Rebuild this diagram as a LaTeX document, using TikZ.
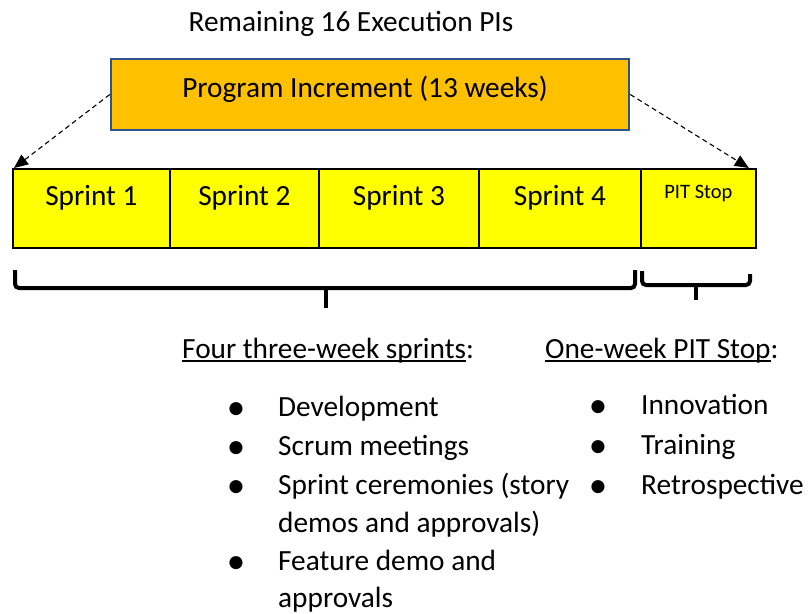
\documentclass[tikz,border=0pt]{standalone}
\usepackage{fontspec}
\setmainfont{Carlito}
\usetikzlibrary{arrows.meta}
\definecolor{piorange}{HTML}{FFC000}
\definecolor{piblue}{HTML}{2F528F}
\definecolor{sprintyellow}{HTML}{FFFF00}
\newcommand\ulbase[1]{\setbox0\hbox{#1}\rlap{\rule[-3.6pt]{\wd0}{1.6pt}}\box0}
\tikzset{
  big/.style={font=\fontsize{29.3}{34}\selectfont},
  small/.style={font=\fontsize{20.5}{24}\selectfont},
  pibox/.style={draw=piblue, fill=piorange, line width=2.5pt, minimum width=518pt, minimum height=71pt, inner sep=0pt},
  sprintbox/.style={draw=black, fill=sprintyellow, line width=1.8pt, anchor=north west, minimum height=79pt, inner sep=0pt},
  zoomarrow/.style={line width=1.1pt, dash pattern=on 5pt off 3.5pt, -{Triangle[length=14pt,width=12pt]}},
  bracepath/.style={line width=4pt, rounded corners=4pt},
  txt/.style={big, anchor=base west, inner sep=0pt},
  bul/.style={font=\fontsize{37}{40}\selectfont, anchor=base, inner sep=0pt},
}
\begin{document}
\begin{tikzpicture}[x=1pt,y=-1pt]
\useasboundingbox (0,0) rectangle (808,613);
% title
\node[big, inner sep=0pt, anchor=base] (title) at (351,31) {Remaining 16 Execution PIs};
% program increment
\node[pibox] (pi) at (370,94.5) {};
\node[big, inner sep=0pt, anchor=base] (pitext) at (365,97) {Program Increment (13 weeks)};
% sprints
\node[sprintbox, minimum width=157pt] (s1) at (12,168) {};
\node[sprintbox, minimum width=149pt] (s2) at (169,168) {};
\node[sprintbox, minimum width=160pt] (s3) at (318,168) {};
\node[sprintbox, minimum width=162pt] (s4) at (478,168) {};
\node[sprintbox, minimum width=115pt] (pit) at (640,168) {};
\node[big, inner sep=0pt, anchor=base] (t1) at ([yshift=-37pt]s1.north) {Sprint 1};
\node[big, inner sep=0pt, anchor=base] (t2) at ([yshift=-37pt]s2.north) {Sprint 2};
\node[big, inner sep=0pt, anchor=base] (t3) at ([yshift=-37pt]s3.north) {Sprint 3};
\node[big, inner sep=0pt, anchor=base] (t4) at ([yshift=-37pt]s4.north) {Sprint 4};
\node[small, inner sep=0pt, anchor=base] (tp) at ([yshift=-30pt]pit.north) {PIT Stop};
% dashed arrows
\draw[zoomarrow] (pi.west) -- ([xshift=2pt]s1.north west);
\draw[zoomarrow] (pi.east) -- ([xshift=-8pt]pit.north east);
% braces
\coordinate (b1l) at (15,270);
\coordinate (b1r) at (635,270);
\coordinate (b1m) at (326,288);
\coordinate (b1t) at (326,308);
\draw[bracepath] (b1l) -- (15,288) -- (635,288) -- (b1r);
\draw[line width=4pt] (b1m) -- (b1t);
\coordinate (b2l) at (642,271);
\coordinate (b2r) at (750,274);
\coordinate (b2m) at (696,285);
\coordinate (b2t) at (696,300);
\draw[bracepath] (b2l) -- (642,285) -- (750,285) -- (b2r);
\draw[line width=4pt] (b2m) -- (b2t);
% headings
\node[txt] (h1) at (182,358) {\ulbase{Four three-week sprints}:};
\node[txt] (h2) at (545,358) {\ulbase{One-week PIT Stop}:};
% left list
\node[bul] (lb1) at (236,419) {•};
\node[txt] (l1) at (278,416) {Development};
\node[bul] (lb2) at (236,458) {•};
\node[txt] (l2) at (278,455) {Scrum meetings};
\node[bul] (lb3) at (236,497) {•};
\node[txt] (l3) at (278,494) {Sprint ceremonies (story};
\node[txt] (l3b) at (278,532) {demos and approvals)};
\node[bul] (lb4) at (236,573) {•};
\node[txt] (l4) at (278,570) {Feature demo and};
\node[txt] (l4b) at (278,607) {approvals};
% right list
\node[bul] (rb1) at (598,417) {•};
\node[txt] (r1) at (641,414) {Innovation};
\node[bul] (rb2) at (598,457) {•};
\node[txt] (r2) at (641,454) {Training};
\node[bul] (rb3) at (598,497) {•};
\node[txt] (r3) at (641,494) {Retrospective};
\end{tikzpicture}
\end{document}
